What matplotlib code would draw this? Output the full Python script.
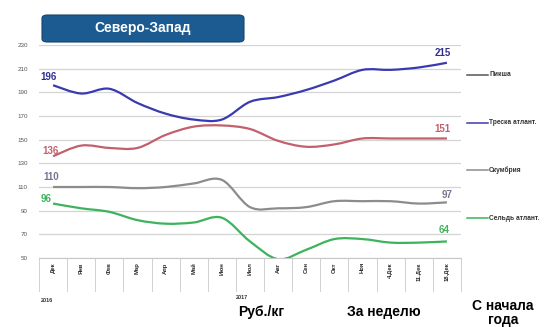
import matplotlib
matplotlib.use("Agg")
import matplotlib.pyplot as plt
import numpy as np
from matplotlib.path import Path
from matplotlib.patches import PathPatch, FancyBboxPatch

plt.rcParams["font.family"] = ["Liberation Sans", "DejaVu Sans"]

# Цены, руб./кг
months = ["Дек", "Янв", "Фев", "Мар", "Апр", "Май", "Июн", "Июл", "Авг",
          "Сен", "Окт", "Ноя", "4.Дек", "11.Дек", "18.Дек"]
haddock = [196, 189, 193, 181, 172, 167, 167, 182, 186, 192, 200, 209, 209, 211, 215]
cod = [136, 145, 143, 143, 154, 161, 162, 159, 149, 144, 146, 151, 151, 151, 151]
mackerel = [110, 110, 110, 109, 110, 113, 116, 93, 92, 93, 98, 98, 98, 96, 97]
herring = [96, 92, 89, 82, 79, 80, 84, 64, 49, 57, 66, 66, 63, 63, 64]

legend_names = ["Пикша", "Треска атлант.", "Скумбрия", "Сельдь атлант."]
yticks = [50, 70, 90, 110, 130, 150, 170, 190, 210, 230]

C_HADDOCK = "#3a3ab0"
C_COD = "#c2606c"
C_MACKEREL = "#8c8c8c"
C_HERRING = "#3cb35c"


def smooth_path(xs, ys):
    """Cubic Bezier through the points, like spreadsheet 'smoothed line'."""
    pts = np.column_stack([xs, ys]).astype(float)
    n = len(pts)
    verts = [pts[0]]
    codes = [Path.MOVETO]
    for i in range(n - 1):
        p0 = pts[i - 1] if i > 0 else pts[i]
        p1, p2 = pts[i], pts[i + 1]
        p3 = pts[i + 2] if i + 2 < n else pts[i + 1]
        verts += [p1 + (p2 - p0) / 6.0, p2 - (p3 - p1) / 6.0, p2]
        codes += [Path.CURVE4] * 3
    return Path(verts, codes)


fig = plt.figure(figsize=(5.52, 3.27), dpi=100)
ax = fig.add_axes([39 / 552, 1 - 258 / 327, (461 - 39) / 552, (258 - 45) / 327])
x = np.arange(len(months))

for ys, col in [(haddock, C_HADDOCK), (cod, C_COD),
                (mackerel, C_MACKEREL), (herring, C_HERRING)]:
    ax.add_patch(PathPatch(smooth_path(x, ys), facecolor="none",
                           edgecolor=col, lw=1.6, zorder=3))

ax.set_xlim(-0.5, len(months) - 0.5)
ax.set_ylim(50, 230)
ax.set_yticks(yticks)
ax.set_yticklabels([str(v) for v in yticks], fontsize=4.5, color="#555555")
ax.yaxis.grid(True, color="#d4d4d4", lw=0.9)
ax.tick_params(axis="y", length=0, pad=8)
ax.set_xticks([])
for s in ["top", "right", "left"]:
    ax.spines[s].set_visible(False)
ax.spines["bottom"].set_color("#c8c8c8")

# end-point value labels
def lab(xv, yv, txt, col, dx, dy, ha="center"):
    ax.annotate(txt, (xv, yv), xytext=(dx, dy), textcoords="offset points",
                ha=ha, va="center", fontsize=7, fontweight="bold", color=col,
                annotation_clip=False)

last = len(months) - 1
lab(0, haddock[0], str(haddock[0]), "#2e2e8c", -3, 6)
lab(last, haddock[-1], str(haddock[-1]), "#2e2e8c", -3, 7)
lab(0, cod[0], str(cod[0]), C_COD, -2, 4)
lab(last, cod[-1], str(cod[-1]), C_COD, -3, 7)
lab(0, mackerel[0], str(mackerel[0]), "#7a7290", -1, 7)
lab(last, mackerel[-1], str(mackerel[-1]), "#7a7290", 0, 5)
lab(0, herring[0], str(herring[0]), C_HERRING, -5, 3)
lab(last, herring[-1], str(herring[-1]), C_HERRING, -2, 8)

# category axis labels and separators
for i, m in enumerate(months):
    ax.text(i, 46.5, m, rotation=90, ha="center", va="top", fontsize=4.2,
            fontweight="bold", color="#2a2a2a", clip_on=False)
for b in np.arange(-0.5, len(months), 1.0):
    ax.plot([b, b], [50, 22], color="#d0d0d0", lw=0.7, clip_on=False)
ax.text(-0.45, 14.5, "2016", fontsize=4, fontweight="bold", color="#333333",
        ha="left", va="center", clip_on=False)
ax.text(6.5, 17, "2017", fontsize=4, fontweight="bold", color="#333333",
        ha="left", va="center", clip_on=False)

# legend
leg_y = [75, 123, 170, 218]
leg_c = ["#555555", C_HADDOCK, C_MACKEREL, C_HERRING]
for yy, name, col in zip(leg_y, legend_names, leg_c):
    fy = 1 - yy / 327
    fig.add_artist(plt.Line2D([467 / 552, 488 / 552], [fy, fy], color=col, lw=1.1))
    fig.text(489 / 552, fy, name, fontsize=4.8, fontweight="bold",
             color="#333333", va="center", ha="left")

# title box
fig.patches.append(FancyBboxPatch((42 / 552, 1 - 42 / 327), 202 / 552, 27 / 327,
                                  boxstyle="round,pad=0,rounding_size=0.01",
                                  transform=fig.transFigure,
                                  facecolor="#1c5b92", edgecolor="#124670", lw=0.8))
fig.text(143 / 552, 1 - 28 / 327, "Северо-Запад", color="white", fontsize=10,
         fontweight="bold", ha="center", va="center")

# bottom captions
fig.text(261 / 552, 1 - 312 / 327, "Руб./кг", fontsize=10, fontweight="bold",
         ha="center", va="center")
fig.text(384 / 552, 1 - 312 / 327, "За неделю", fontsize=10, fontweight="bold",
         ha="center", va="center")
fig.text(503 / 552, 1 - 313 / 327, "С начала\nгода", fontsize=10,
         fontweight="bold", ha="center", va="center", linespacing=0.95)

fig.savefig("out.png", dpi=100)
